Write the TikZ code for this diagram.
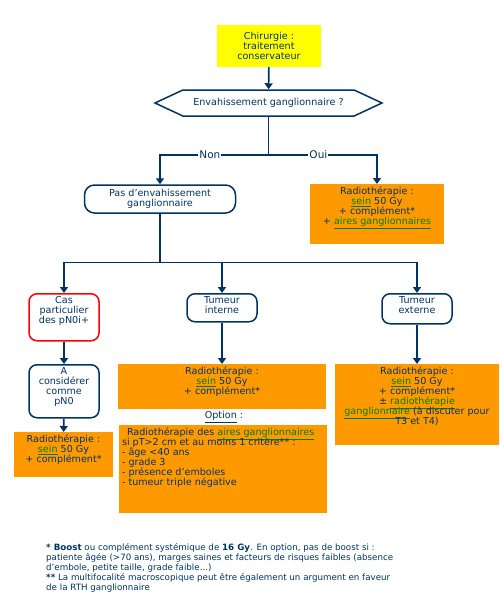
\documentclass[tikz,border=0pt]{standalone}
\usepackage{fontspec}
\setmainfont{DejaVu Sans}
\usetikzlibrary{arrows.meta,shapes.symbols}

\definecolor{navy}{RGB}{0,51,102}
\definecolor{orangebox}{RGB}{255,153,0}
\definecolor{linkgreen}{RGB}{0,128,0}
\definecolor{jaune}{RGB}{255,255,0}

\setlength{\lineskiplimit}{-5pt}
\newcommand{\lien}[1]{\textcolor{linkgreen}{\smash{\underline{#1}}}}
\newcommand{\boite}[3]{\parbox[c][#2][t]{#1}{\vspace*{3pt}\centering #3}}

\tikzset{
  trait/.style={draw=navy, line width=1.6pt},
  fleche/.style={trait, -{Triangle[width=8pt,length=6pt]}},
  bloc/.style={draw=navy, line width=1.5pt, rounded corners=8pt, fill=white, text=navy, inner sep=0pt},
  orangebloc/.style={fill=orangebox, inner sep=0pt, text=navy},
  choix/.style={fill=white, text=navy, inner sep=1pt, font=\fontsize{10.5}{12}\selectfont},
}

\begin{document}
\begin{tikzpicture}[x=1pt,y=-1pt,font=\fontsize{9.6}{10}\selectfont]

\useasboundingbox (0,0) rectangle (500,600);

% haut de l'arbre
\node[fill=jaune, minimum width=104pt, minimum height=42pt, align=center, text=navy] (chir) at (269,46) {Chirurgie :\\traitement\\conservateur};
\node[signal, signal to=west and east, draw=navy, line width=1.5pt, minimum width=227pt, minimum height=26pt, signal pointer angle=50, text=navy, inner sep=0pt] (gang) at (268.5,103) {Envahissement ganglionnaire ?};

\node[bloc, rounded corners=10pt, minimum width=151pt, minimum height=28pt, align=center] (pasenv) at (160,199) {Pas d'envahissement\\ganglionnaire};
\node[orangebloc, anchor=north] (rthoui) at (377,184) {\boite{134pt}{60pt}{Radiothérapie :\\\lien{sein} 50 Gy\\+ complément*\\+ \lien{aires ganglionnaires}}};

% trois cas
\node[bloc, draw=red, anchor=north] (cas) at (64,293) {\boite{70pt}{47pt}{Cas\\particulier\\des pN0i+}};
\node[bloc, anchor=north] (tumint) at (222,293) {\boite{70pt}{28pt}{Tumeur\\interne}};
\node[bloc, anchor=north] (tumext) at (417,293) {\boite{70pt}{30pt}{Tumeur\\externe}};

\node[bloc, anchor=north] (acons) at (64,364) {\boite{70pt}{53pt}{A\\considérer\\comme\\pN0}};
\node[orangebloc, anchor=north] (rthcas) at (63.5,432) {\boite{99pt}{45pt}{Radiothérapie :\\\lien{sein} 50 Gy\\+ complément*}};

\node[orangebloc, anchor=north] (rthint) at (222,364) {\boite{208pt}{45pt}{Radiothérapie :\\\lien{sein} 50 Gy\\+ complément*}};
\node[text=navy] (option) at (224,417) {\underline{Option} :};
\node[orangebloc, anchor=north] (optbox) at (223,425) {\parbox[c][88pt][t]{208pt}{\vspace*{3pt}\raggedright\leftskip=3pt
  \hspace*{5pt}Radiothérapie des \lien{aires ganglionnaires}\\
  si pT>2 cm et au moins 1 critère** :\\
  - âge <40 ans\\
  - grade 3\\
  - présence d'emboles\\
  - tumeur triple négative}};

\node[orangebloc, anchor=north] (rthext) at (417,364) {\boite{164pt}{81pt}{Radiothérapie :\\\lien{sein} 50 Gy\\+ complément*\\± \lien{radiothérapie}\\\lien{ganglionnaire} (à discuter pour\\T3 et T4)}};

% notes
\node[anchor=north west, align=left, text=navy, inner sep=0pt, font=\fontsize{8.7}{10}\selectfont] (notes) at (46,543) {\textbf{* Boost} ou complément systémique de \textbf{16 Gy}. En option, pas de boost si :\\
patiente âgée (>70 ans), marges saines et facteurs de risques faibles (absence\\
d'embole, petite taille, grade faible...)\\
\textbf{**} La multifocalité macroscopique peut être également un argument en faveur\\
de la RTH ganglionnaire};

% liaisons
\coordinate (split) at (268.5,155);
\coordinate (split2) at (160,262.5);

\draw[fleche] (chir) -- (gang);
\draw[trait] (gang) -- (split);
\draw[fleche] (split) -| node[choix, pos=0.27] {Non} (pasenv.north);
\draw[fleche] (split) -| node[choix, pos=0.23] {Oui} (rthoui.north);

\draw[trait] (pasenv) -- (split2);
\draw[fleche] (split2) -| (cas.north);
\draw[fleche] (split2) -| (tumint.north);
\draw[fleche] (split2) -| (tumext.north);

\draw[fleche] (cas) -- (acons);
\draw[fleche] (acons) -- (rthcas);
\draw[fleche] (tumint) -- (rthint);
\draw[fleche] (tumext) -- (rthext);

\end{tikzpicture}
\end{document}
